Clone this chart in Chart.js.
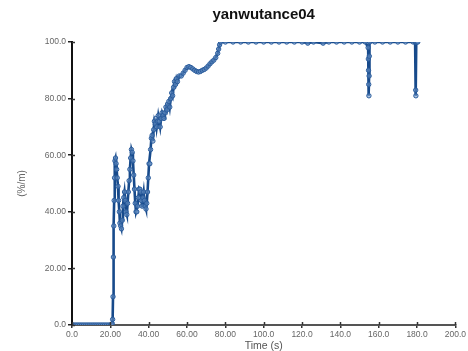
<!DOCTYPE html>
<html>
<head>
<meta charset="utf-8">
<script src="https://cdn.jsdelivr.net/npm/chart.js"></script>
<style>
  html, body { margin: 0; padding: 0; background: #fff; }
  #wrap { width: 468px; height: 351px; }
</style>
</head>
<body>
<div id="wrap"><canvas id="chart" width="468" height="351"></canvas></div>
<script>
  // values
  const times = [
    0, 1, 2, 3, 4, 5, 6, 7, 8, 9, 10, 11, 12, 13, 14, 15, 16, 17, 18, 19, 20,
    20.5, 21, 21.2, 21.4, 21.6, 21.8, 22.0, 22.2, 22.4, 22.7, 23.0, 23.3, 23.6,
    24.0, 24.3, 24.7, 25.0, 25.4, 25.8, 26.2, 26.6, 27.0, 27.4, 27.8, 28.2, 28.6,
    29.0, 29.4, 29.8, 30.2, 30.6, 31.0, 31.4, 31.8, 32.2, 32.6, 33.0, 33.4, 33.8,
    34.2, 34.6, 35.0, 35.4, 35.8, 36.2, 36.6, 37.0, 37.4, 37.8, 38.2, 38.6, 39.0,
    39.4, 39.8, 40.2, 40.6, 41.0, 41.4, 41.8, 42.2, 42.6, 43.0, 43.4, 43.8, 44.2,
    44.6, 45.0, 45.5, 46.0, 46.5, 47.0, 47.5, 48.0, 48.5, 49.0, 49.5, 50.0, 50.5,
    51.0, 51.5, 52.0, 52.5, 53.0, 53.5, 54.0, 54.5, 55.0, 56.0, 57.0, 58.0, 59.0,
    60.0, 61.0, 62.0, 63.0, 64.0, 65.0, 66.0, 67.0, 68.0, 69.0, 70.0, 71.0, 72.0,
    73.0, 74.0, 75.0, 76.0, 76.5, 77.0, 77.5,
    80, 84, 88, 92, 96, 100, 104, 108, 112, 116, 120, 123, 126, 131, 134, 138,
    142, 146, 150, 153, 154.5, 154.6, 154.7, 154.8, 154.9, 155.0, 155.1, 155.3,
    158, 162, 166, 170, 174, 178, 179.0, 179.2, 179.3, 179.4, 179.6, 180.0, 180.4
  ];
  const values = [
    0, 0, 0, 0, 0, 0, 0, 0, 0, 0, 0, 0, 0, 0, 0, 0, 0, 0, 0, 0, 0,
    0, 0.5, 2, 10, 24, 35, 44, 52, 58, 59, 57, 55, 52,
    49, 44, 40, 36, 35, 34, 37, 42, 45, 47, 44, 40, 39,
    43, 47, 51, 55, 59, 62, 61, 58, 53, 48, 43, 40, 40,
    42, 45, 48, 48, 47, 44, 42, 45, 47, 44, 42, 41, 43,
    47, 52, 57, 57, 62, 66, 67, 65, 69, 72, 71, 73, 70,
    72, 74, 72, 70, 73, 75, 74, 73, 75, 77, 76, 78, 79,
    77, 80, 82, 81, 84, 86, 85, 87, 86, 88, 88, 89, 90,
    91, 91.3, 91, 90.5, 90, 89.6, 89.4, 89.6, 90, 90.3, 90.8, 91.5, 92.3,
    93, 93.6, 94.5, 96, 97.5, 99, 100,
    100, 100, 100, 100, 100, 100, 100, 100, 100, 100, 100, 99.6, 100, 99.6, 100, 100,
    100, 100, 100, 100, 98, 94, 90, 85, 81, 88, 95, 100,
    100, 100, 100, 100, 100, 100, 100, 100, 83, 81, 100, 100, 100
  ];
  const xTickLabels = ['0.0', '20.00', '40.00', '60.00', '80.00', '100.0', '120.0', '140.0', '160.0', '180.0', '200.0'];
  const yTickLabels = ['0.0', '20.00', '40.00', '60.00', '80.00', '100.0'];
  const chartTitle = 'yanwutance04';

  const points = times.map((t, i) => ({ x: t, y: values[i] }));
  const FONT = 'Liberation Sans, Arial, sans-serif';

  // small stubs on the inner side of each axis so the ticks cross the line,
  // plus the title centred over the plot area
  const decorations = {
    id: 'decorations',
    afterDraw(chart) {
      const { ctx, scales: { x, y } } = chart;
      ctx.save();
      ctx.lineWidth = 1.5;
      ctx.strokeStyle = '#333';
      y.ticks.forEach((tick) => {
        const py = Math.round(y.getPixelForValue(tick.value)) + 0.5;
        ctx.beginPath();
        ctx.moveTo(x.left, py);
        ctx.lineTo(x.left + 3, py);
        ctx.stroke();
      });
      x.ticks.forEach((tick) => {
        const px = Math.round(x.getPixelForValue(tick.value)) + 0.5;
        ctx.beginPath();
        ctx.moveTo(px, y.bottom);
        ctx.lineTo(px, y.bottom - 3);
        ctx.stroke();
      });

      ctx.fillStyle = '#111';
      ctx.font = 'bold 15px ' + FONT;
      ctx.textAlign = 'center';
      ctx.textBaseline = 'middle';
      ctx.fillText(chartTitle, (x.left + x.right) / 2, 15);
      ctx.restore();
    },
  };

  new Chart(document.getElementById('chart').getContext('2d'), {
    type: 'line',
    data: {
      datasets: [
        {
          data: points,
          borderColor: '#174a8b',
          borderWidth: 2.6,
          pointRadius: 2.2,
          pointBorderWidth: 1,
          pointBorderColor: '#2a5c9c',
          pointBackgroundColor: 'rgba(110, 150, 200, 0.55)',
          tension: 0,
          fill: false,
        },
      ],
    },
    options: {
      responsive: false,
      animation: false,
      layout: { padding: { left: 0, right: 0, top: 42, bottom: 0 } },
      plugins: {
        legend: { display: false },
        tooltip: { enabled: false },
        title: { display: false },
      },
      scales: {
        x: {
          type: 'linear',
          min: 0,
          max: 200,
          afterFit(scale) { scale.height = 26; },
          ticks: {
            stepSize: 20,
            maxRotation: 0,
            autoSkip: false,
            padding: 2,
            color: '#666',
            font: { family: FONT, size: 8.5 },
            callback: (value, index) => xTickLabels[index],
          },
          grid: { drawOnChartArea: false, drawTicks: true, tickLength: 3, color: '#333', lineWidth: 1.5 },
          border: { display: true, color: '#555', width: 2 },
          title: {
            display: true,
            text: 'Time (s)',
            color: '#555',
            font: { family: FONT, size: 10.5, lineHeight: 1 },
            padding: { top: 0, bottom: 0 },
          },
        },
        y: {
          min: 0,
          max: 100,
          afterFit(scale) { scale.width = 72; },
          ticks: {
            stepSize: 20,
            padding: 2,
            color: '#666',
            font: { family: FONT, size: 8.5 },
            callback: (value, index) => yTickLabels[index],
          },
          grid: { drawOnChartArea: false, drawTicks: true, tickLength: 4, color: '#222', lineWidth: 1.5 },
          border: { display: true, color: '#111', width: 2 },
          title: {
            display: true,
            text: '(%/m)',
            color: '#666',
            font: { family: FONT, size: 10, lineHeight: 1 },
            padding: { top: 17, bottom: 0 },
          },
        },
      },
    },
    plugins: [decorations],
  });
</script>
</body>
</html>
